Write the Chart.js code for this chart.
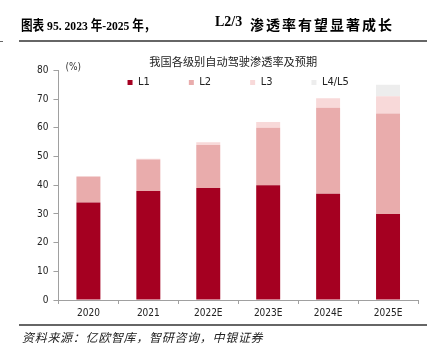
<!DOCTYPE html>
<html>
<head>
<meta charset="utf-8">
<script src="https://cdn.jsdelivr.net/npm/chart.js@4.4.0/dist/chart.umd.min.js"></script>
<style>
  body { margin: 0; background: #fff; }
  #wrap { position: relative; width: 427px; height: 353px; overflow: hidden; }
  #chart { position: absolute; left: 0; top: 0; }
  .head {
    position: absolute; top: 14px; line-height: 18px;
    font: bold 14px "Liberation Serif", "Noto Sans CJK SC", serif;
    color: #000; white-space: pre;
  }
  .rule { position: absolute; height: 2px; background: #666; }
  .src {
    position: absolute; left: 22px; top: 328px; line-height: 16px;
    font: italic 12px "Noto Sans CJK SC", sans-serif; letter-spacing: 0.7px;
    color: #222;
  }
</style>
</head>
<body>
<div id="wrap">
  <canvas id="chart" width="427" height="353"></canvas>
  <div class="head" style="left:21px; font-size:13.5px; transform:scaleX(0.86); transform-origin:left center;">图表 95. 2023 年-2025 年，</div>
  <div class="head" style="left:215px;">L2/3</div>
  <div class="head" style="left:250px; letter-spacing:2px;">渗透率有望显著成长</div>
  <div class="rule" style="left:19px; width:408px; top:40px;"></div>
  <div class="rule" style="left:0; width:3px; top:41px; height:1px;"></div>
  <div class="rule" style="left:19px; width:408px; top:324px; height:1.5px;"></div>
  <div class="src">资料来源：亿欧智库，智研咨询，中银证券</div>
</div>
<script>
"use strict";

// data (%)
const years = ["2020", "2021", "2022E", "2023E", "2024E", "2025E"];
const l1Share = [34, 38, 39, 40, 37, 30];
const l2Share = [9, 11, 15, 20, 30, 35];
const l3Share = [0, 0.2, 1, 2, 3.3, 6];
const l45Share = [0, 0, 0, 0, 0, 4];
const yMin = 0;
const yMax = 80;
const yStep = 10;

const tickFont = '"DejaVu Sans Condensed", "Liberation Sans Narrow", "Noto Sans CJK SC", sans-serif';
const axisGray = "#a0a0a0";

// put the title and legend over the plot area instead of the whole canvas
const placeTitleLegend = {
  id: "placeTitleLegend",
  afterLayout(chart) {
    const area = chart.chartArea;
    const t = chart.titleBlock;
    const lg = chart.legend;

    let dy = area.top - 9 - (t.top + t.height / 2);
    t.top += dy;
    t.bottom += dy;
    t.left = area.left - 10; // title sits a touch left of the plot centre
    t.right = area.right;

    // legend clips to its own box, so give it room for the row
    const pad = lg.options.labels.padding;
    lg.top = area.top + 12.5 - pad - 6;
    lg.bottom = lg.top + pad + 24;
    lg.height = lg.bottom - lg.top;
    lg.left = area.left;
    lg.right = area.right;
  },
  afterDraw(chart) {
    const ctx = chart.ctx;
    const area = chart.chartArea;
    ctx.save();
    ctx.font = "10px " + tickFont;
    ctx.fillStyle = "#333";
    ctx.textBaseline = "middle";
    ctx.fillText("(%)", area.left + 7, area.top - 3);
    ctx.restore();
  },
};

function renderChart() {
  const chartArea = document.getElementById("chart");

  const barData = {
    labels: years,
    datasets: [
      { label: "L1", data: l1Share, backgroundColor: "#a50021" },
      { label: "L2", data: l2Share, backgroundColor: "#e9acac" },
      { label: "L3", data: l3Share, backgroundColor: "#f8d9d9" },
      { label: "L4/L5", data: l45Share, backgroundColor: "#ededed" },
    ],
  };

  new Chart(chartArea, {
    type: "bar",
    data: barData,
    options: {
      responsive: false,
      animation: false,
      layout: { padding: { top: 41, left: 32, right: 9, bottom: 31 } },
      datasets: {
        bar: { categoryPercentage: 1, barPercentage: 0.4, borderWidth: 0 },
      },
      plugins: {
        tooltip: { enabled: false },
        title: {
          display: true,
          text: "我国各级别自动驾驶渗透率及预期",
          color: "#222",
          font: { family: "Noto Sans CJK SC", size: 11.2, weight: "normal" },
          padding: 0,
        },
        legend: {
          position: "top",
          maxHeight: 16,
          labels: {
            boxWidth: 5,
            boxHeight: 5,
            padding: 39,
            color: "#222",
            font: { family: tickFont, size: 11 },
          },
        },
      },
      scales: {
        x: {
          stacked: true,
          grid: {
            offset: true,
            drawOnChartArea: false,
            tickLength: 4,
            color: axisGray,
          },
          border: { color: axisGray },
          ticks: { color: "#222", padding: 3, font: { family: tickFont, size: 10 } },
        },
        y: {
          stacked: true,
          min: yMin,
          max: yMax,
          grid: {
            drawOnChartArea: false,
            tickLength: 5,
            color: axisGray,
          },
          border: { color: axisGray },
          ticks: {
            stepSize: yStep,
            color: "#222",
            padding: 5,
            font: { family: tickFont, size: 10 },
          },
        },
      },
    },
    plugins: [placeTitleLegend],
  });
}

renderChart();
</script>
</body>
</html>
